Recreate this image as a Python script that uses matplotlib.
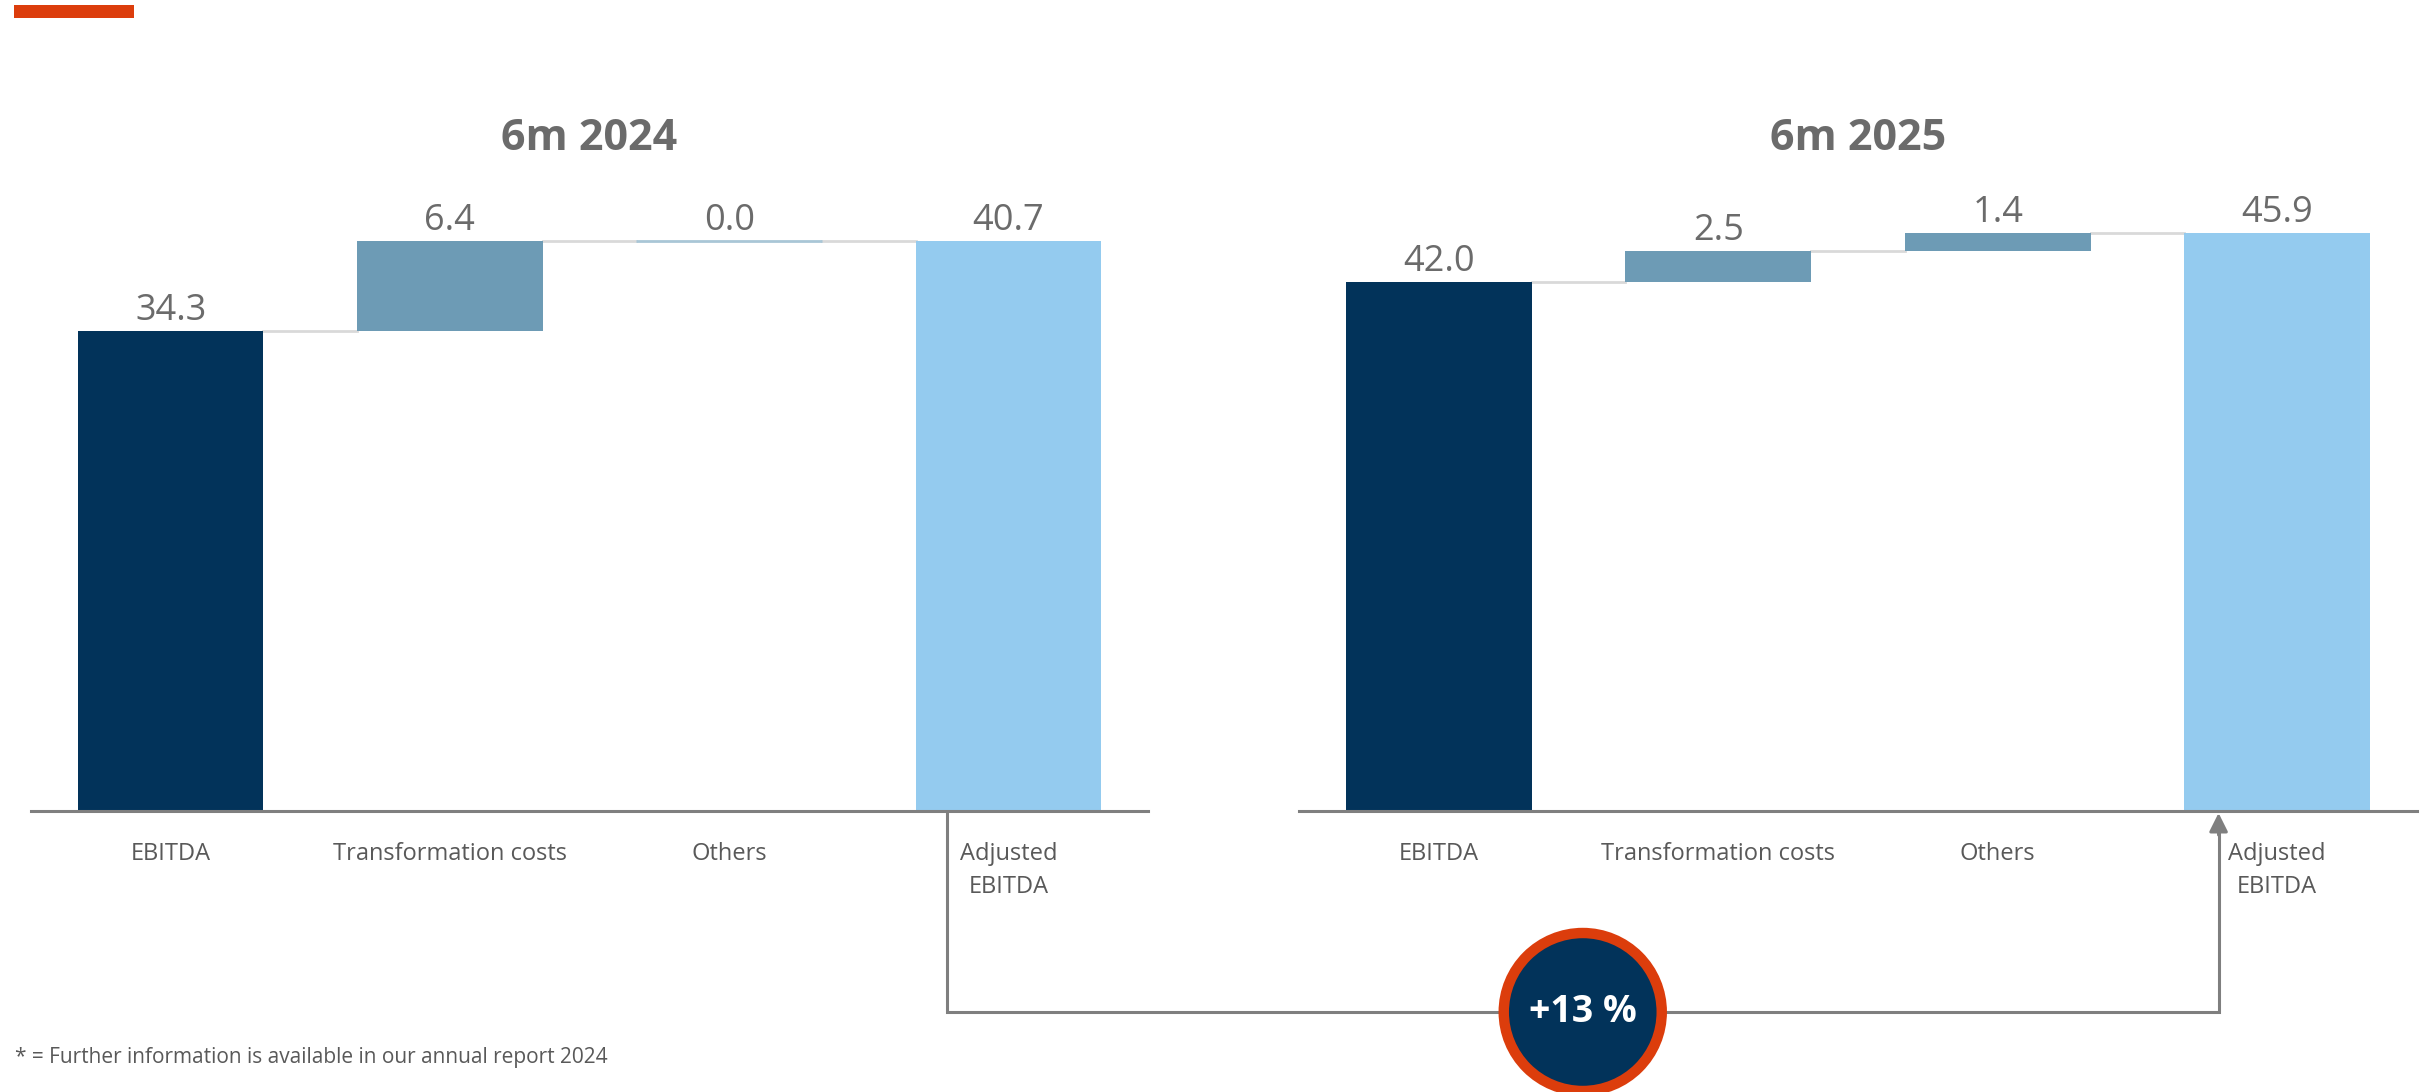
import numpy as np
import matplotlib.pyplot as plt
from matplotlib.patches import Circle, Rectangle

plt.rcParams['font.family'] = ['Open Sans', 'DejaVu Sans']

# data
categories = ["EBITDA", "Transformation costs", "Others", "Adjusted\nEBITDA"]
titles = ["6m 2024", "6m 2025"]
values_2024 = [34.3, 6.4, 0.0, 40.7]
values_2025 = [42.0, 2.5, 1.4, 45.9]
growth_label = "+13 %"
footnote = "* = Further information is available in our annual report 2024"

NAVY = "#02335a"
STEEL = "#6d9bb5"
LIGHT = "#94cbef"
RED = "#dc3d0c"
GREY_TXT = "#6b6b6b"
GREY_LINE = "#7f7f7f"
CONN = "#d9d9d9"

W, H = 2427, 1092
fig = plt.figure(figsize=(W / 100, H / 100), dpi=100)


def px_axes(x0, x1, top, bottom):
    return fig.add_axes([x0 / W, 1 - bottom / H, (x1 - x0) / W, (bottom - top) / H])


def waterfall(ax, values, title, ytop):
    x = np.arange(len(values))
    bw = 0.665
    # bottoms of the floating bars: first and last stand on zero
    bottoms = [0.0]
    running = values[0]
    for v in values[1:-1]:
        bottoms.append(running)
        running += v
    bottoms.append(0.0)
    colors = [NAVY] + [STEEL] * (len(values) - 2) + [LIGHT]

    for i, (v, b, c) in enumerate(zip(values, bottoms, colors)):
        if v == 0:
            ax.plot([i - bw / 2, i + bw / 2], [b, b], color="#a9c6d6", lw=2, solid_capstyle='butt')
        else:
            ax.bar(i, v, bottom=b, width=bw, color=c, edgecolor='none')
        ax.annotate(f"{v:.1f}", (i, b + v), xytext=(0, 8), textcoords='offset points',
                    ha='center', va='baseline', fontsize=26, color=GREY_TXT)

    # connectors
    for i in range(len(values) - 1):
        lvl = bottoms[i] + values[i]
        ax.plot([i + bw / 2, i + 1 - bw / 2], [lvl, lvl], color=CONN, lw=2, zorder=0)

    ax.set_xlim(-0.5, len(values) - 0.5)
    ax.set_ylim(0, ytop)
    ax.set_xticks(x)
    ax.set_xticklabels(categories, fontsize=17, color="#595959", linespacing=1.5)
    ax.tick_params(axis='x', length=0, pad=22)
    ax.set_yticks([])
    for s in ['top', 'left', 'right']:
        ax.spines[s].set_visible(False)
    ax.spines['bottom'].set_color(GREY_LINE)
    ax.spines['bottom'].set_linewidth(2.2)
    # passing y switches off automatic title placement
    ax.set_title(title, fontsize=31, fontweight='bold', color=GREY_TXT, pad=0,
                 y=(811 - 138) / 700, va='center')


ax1 = px_axes(31, 1148, 111, 811)
ax2 = px_axes(1299, 2417, 111, 811)
waterfall(ax1, values_2024, titles[0], 50.0)
waterfall(ax2, values_2025, titles[1], 55.6)

# overlay for the decorative elements in pixel coordinates
ov = fig.add_axes([0, 0, 1, 1], zorder=5)
ov.set_xlim(0, W)
ov.set_ylim(H, 0)
ov.axis('off')
ov.patch.set_alpha(0)

fig.canvas.draw()


def to_px(ax, xy):
    dx, dy = ax.transData.transform(xy)
    return dx, H - dy


xl, yb = to_px(ax1, (3 - 0.22, 0))
xr, _ = to_px(ax2, (3 - 0.21, 0))
y_low = 1012
ov.plot([xl, xl, xr, xr], [yb + 2, y_low, y_low, yb + 20], color=GREY_LINE, lw=2.2,
        solid_joinstyle='miter')
ov.annotate("", xy=(xr, yb + 2), xytext=(xr, yb + 24),
            arrowprops=dict(arrowstyle='-|>', color=GREY_LINE, lw=2.2,
                            mutation_scale=28, shrinkA=0, shrinkB=0))

cx = (xl + xr) / 2
ov.add_patch(Circle((cx, y_low), 79, facecolor=NAVY, edgecolor=RED, lw=7.5, zorder=6))
ov.text(cx, y_low, growth_label, ha='center', va='center', fontsize=27,
        fontweight='bold', color='white', zorder=7)

# red accent bar at the top left
ov.add_patch(Rectangle((14, 5), 120, 13, facecolor=RED, edgecolor='none'))

ov.text(15, 1058, footnote, ha='left', va='center', fontsize=15, color="#595959")

fig.savefig("out.png", dpi=100)
